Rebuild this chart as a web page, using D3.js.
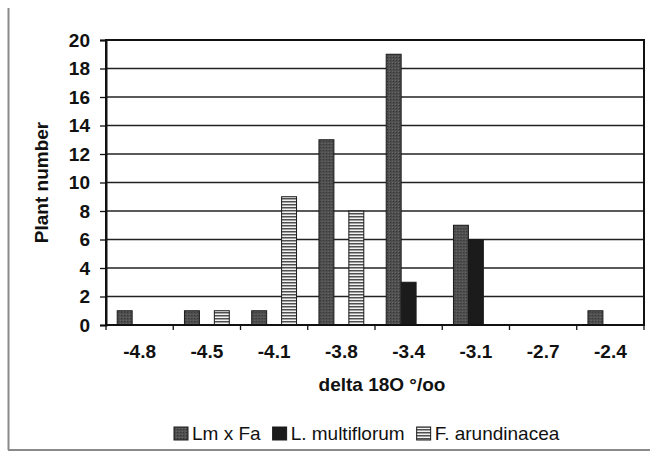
<!DOCTYPE html>
<html>
<head>
<meta charset="utf-8">
<script src="https://cdn.jsdelivr.net/npm/d3@7"></script>
<style>
  html, body { margin: 0; padding: 0; background: #fff; }
  svg { display: block; }
  text { font-family: "Liberation Sans", Arial, sans-serif; fill: #111; }
</style>
</head>
<body>
<svg id="chart" width="650" height="453"></svg>
<script>
// delta 18O classes (per mil) and plant counts per class
const categories = ["-4.8", "-4.5", "-4.1", "-3.8", "-3.4", "-3.1", "-2.7", "-2.4"];
const seriesNames = ["Lm x Fa", "L. multiflorum", "F. arundinacea"];
const lmxfa      = [1, 1, 1, 13, 19, 7, 0, 1];
const multiflorum = [0, 0, 0, 0, 3, 6, 0, 0];
const arundinacea = [0, 1, 9, 8, 0, 0, 0, 0];
const yTicks = [0, 2, 4, 6, 8, 10, 12, 14, 16, 18, 20];

const seriesValues = [lmxfa, multiflorum, arundinacea];

const svg = d3.select("#chart");
const plot = { left: 106, right: 644, top: 40, bottom: 325 };

// Fills: textured dark gray, solid black, horizontal stripes
const defs = svg.append("defs");
const tex = defs.append("pattern").attr("id", "fillHybrid")
  .attr("patternUnits", "userSpaceOnUse").attr("width", 3).attr("height", 3);
tex.append("rect").attr("width", 3).attr("height", 3).attr("fill", "#4f4f4f");
tex.append("rect").attr("width", 1).attr("height", 1).attr("fill", "#333");
tex.append("rect").attr("x", 2).attr("y", 2).attr("width", 1).attr("height", 1).attr("fill", "#6a6a6a");

const stripes = defs.append("pattern").attr("id", "fillStripes")
  .attr("patternUnits", "userSpaceOnUse").attr("width", 4).attr("height", 3);
stripes.append("rect").attr("width", 4).attr("height", 3).attr("fill", "#f2f2f2");
stripes.append("rect").attr("width", 4).attr("height", 1.5).attr("fill", "#505050");

const fills = ["url(#fillHybrid)", "#1b1b1b", "url(#fillStripes)"];

// Outer chart frame (left and bottom edges)
svg.append("line").attr("x1", 8.5).attr("x2", 8.5).attr("y1", 8).attr("y2", 450)
  .attr("stroke", "#8a8a8a").attr("stroke-width", 2);
svg.append("line").attr("x1", 8).attr("x2", 650).attr("y1", 450).attr("y2", 450)
  .attr("stroke", "#8a8a8a").attr("stroke-width", 2);

const x = d3.scaleBand().domain(categories).range([plot.left, plot.right]).padding(0);
const xs = d3.scaleBand().domain(seriesNames).range([0, x.bandwidth()])
  .paddingInner(0).paddingOuter(0.75);
const y = d3.scaleLinear().domain([0, 20]).range([plot.bottom, plot.top]);

// Horizontal gridlines
svg.append("g").selectAll("line").data(yTicks.filter(v => v > 0 && v < 20)).join("line")
  .attr("x1", plot.left).attr("x2", plot.right)
  .attr("y1", d => y(d)).attr("y2", d => y(d))
  .attr("stroke", "#222").attr("stroke-width", 1.3);

// Bars
const groups = svg.append("g").selectAll("g").data(categories).join("g")
  .attr("transform", d => `translate(${x(d)},0)`);
groups.selectAll("rect")
  .data((c, i) => seriesNames.map((s, k) => ({ s, k, v: seriesValues[k][i] })).filter(d => d.v > 0))
  .join("rect")
  .attr("x", d => xs(d.s))
  .attr("width", xs.bandwidth())
  .attr("y", d => y(d.v))
  .attr("height", d => y(0) - y(d.v))
  .attr("fill", d => fills[d.k])
  .attr("stroke", "#1a1a1a").attr("stroke-width", 1);

// Plot area border
svg.append("rect").attr("x", plot.left).attr("y", plot.top)
  .attr("width", plot.right - plot.left).attr("height", plot.bottom - plot.top)
  .attr("fill", "none").attr("stroke", "#111").attr("stroke-width", 2);

// Y axis
const yAxis = svg.append("g").attr("transform", `translate(${plot.left},0)`)
  .call(d3.axisLeft(y).tickValues(yTicks).tickSize(6).tickPadding(10).tickFormat(d3.format("d")));
yAxis.select(".domain").attr("stroke", "#111").attr("stroke-width", 2);
yAxis.selectAll(".tick line").attr("stroke", "#111").attr("stroke-width", 1.3);
yAxis.selectAll(".tick text").attr("font-size", 19).attr("font-weight", "bold")
  .attr("font-family", "Liberation Sans, Arial, sans-serif").attr("fill", "#111");

// X axis: ticks at class boundaries, labels under class centres
const xAxis = svg.append("g").attr("transform", `translate(0,${plot.bottom})`);
xAxis.append("line").attr("x1", plot.left).attr("x2", plot.right).attr("y1", 0).attr("y2", 0)
  .attr("stroke", "#111").attr("stroke-width", 2);
const bounds = categories.map(c => x(c)).concat([x(categories[categories.length - 1]) + x.bandwidth()]);
xAxis.selectAll("line.tk").data(bounds).join("line").attr("class", "tk")
  .attr("x1", d => d).attr("x2", d => d).attr("y1", 0).attr("y2", 5)
  .attr("stroke", "#111").attr("stroke-width", 1.3);
xAxis.selectAll("text").data(categories).join("text")
  .attr("x", d => x(d) + x.bandwidth() / 2).attr("y", 33)
  .attr("text-anchor", "middle").attr("font-size", 19).attr("font-weight", "bold")
  .text(d => d);

// Axis titles
svg.append("text").attr("x", (plot.left + plot.right) / 2 + 7).attr("y", 391)
  .attr("text-anchor", "middle").attr("font-size", 19).attr("font-weight", "bold")
  .text("delta 18O °/oo");
svg.append("text").attr("transform", `translate(48,${(plot.top + plot.bottom) / 2}) rotate(-90)`)
  .attr("text-anchor", "middle").attr("font-size", 19).attr("font-weight", "bold")
  .text("Plant number");

// Legend
const legend = svg.append("g").attr("transform", "translate(174,0)");
let lx = 0;
seriesNames.forEach((name, k) => {
  legend.append("rect").attr("x", lx).attr("y", 427).attr("width", 14).attr("height", 13)
    .attr("fill", fills[k]).attr("stroke", "#1a1a1a").attr("stroke-width", 1);
  const t = legend.append("text").attr("x", lx + 18).attr("y", 440)
    .attr("font-size", 19).text(name);
  lx += 18 + t.node().getComputedTextLength() + 12;
});
</script>
</body>
</html>
